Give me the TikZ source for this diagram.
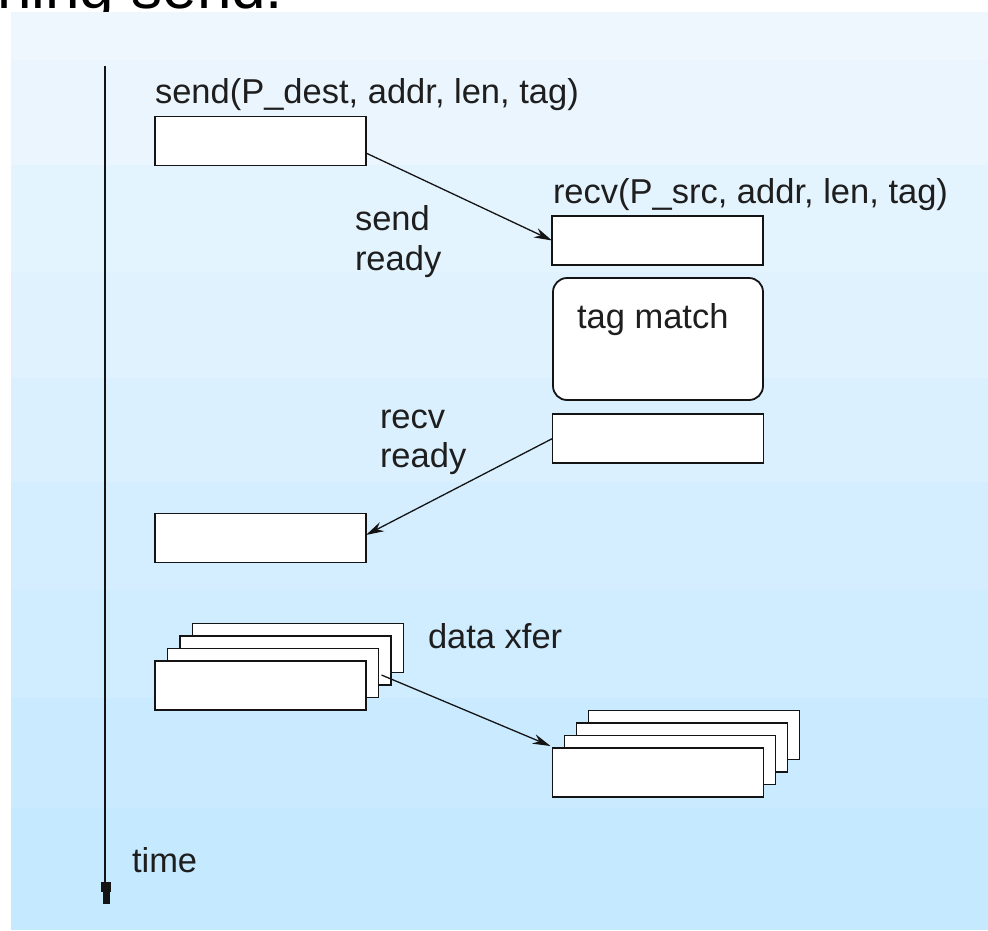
\documentclass[tikz,border=0pt]{standalone}
\usepackage{fontspec}
\setmainfont{Liberation Sans}
\usetikzlibrary{arrows.meta,calc}
\definecolor{bgtop}{RGB}{239,247,254}
\definecolor{bgbot}{RGB}{197,233,255}
\definecolor{txt}{RGB}{30,30,30}
\definecolor{ink}{RGB}{20,20,20}
\begin{document}
\begin{tikzpicture}[x=1pt,y=-1pt,
  box/.style={draw=ink, line width=1.8pt, fill=white, minimum width=211pt, minimum height=49pt, inner sep=0pt, outer sep=0pt},
  lbl/.style={anchor=base west, inner sep=0pt, outer sep=0pt, text=txt, font=\fontsize{34.5}{41}\selectfont},
  conn/.style={line width=1.3pt, draw=ink, -{Stealth[length=18pt,width=10pt]}},
  axis/.style={line width=1.8pt, draw=ink}
]
\useasboundingbox (0,0) rectangle (988,930);
% cut-off title (as in the reference)
\node[anchor=base west, inner sep=0pt, font=\fontsize{62}{70}\selectfont, text=black] (title) at (-3,8) {ning send.};
% banded background panel
\foreach \ya/\yb/\p in {12/60/0, 60/165/12.5, 165/272/25, 272/378/37.5, 378/482/50, 482/590/62.5, 590/698/75, 698/808/87.5, 808/930/100}{
  \fill[bgbot!\p!bgtop] (11,\ya) rectangle (988,\yb);
}
% time axis
\coordinate (t0) at (105,66);
\coordinate (t1) at (105,884);
\draw[axis] (t0) -- (t1);
\fill[ink] (101,882) rectangle (111,892);
\fill[ink] (102.5,892) rectangle (109.5,904);
\node[lbl] (timelbl) at (132,872) {time};
% send / recv boxes
\node[box] (A) at (260.5,141) {};
\node[lbl] (Albl) at (155,103) {send(P\_dest, addr, len, tag)};
\node[box] (B) at (657.5,240.5) {};
\node[lbl] (Blbl) at (553,203) {recv(P\_src, addr, len, tag)};
\node[box, rounded corners=14pt, minimum height=122pt, minimum width=210pt] (M) at (658,339) {};
\node[lbl] (Mlbl) at (577,328) {tag match};
\node[box] (C) at (658,438.5) {};
\node[box] (D) at (260.5,538) {};
% labels on arrows
\node[lbl] (sr1) at (355,230) {send};
\node[lbl] (sr2) at (355,270) {ready};
\node[lbl] (rr1) at (380,428) {recv};
\node[lbl] (rr2) at (380,467) {ready};
% stacked boxes left
\node[box] (L4) at (298,648) {};
\node[box] (L3) at (285.5,660.5) {};
\node[box] (L2) at (273,673) {};
\node[box] (L1) at (260.5,685.5) {};
% stacked boxes right
\node[box] (R4) at (694,735) {};
\node[box] (R3) at (682,747.5) {};
\node[box] (R2) at (670,760) {};
\node[box] (R1) at (658,772.5) {};
\node[lbl] (dx) at (428,648) {data xfer};
% connectors
\draw[conn] ([yshift=-12pt]A.east) -- (B.west);
\draw[conn] (C.west) -- ([yshift=3pt]D.east);
\draw[conn] ([xshift=3pt,yshift=-2pt]L2.east) -- ([xshift=-2pt,yshift=2pt]R1.north west);
\end{tikzpicture}
\end{document}
